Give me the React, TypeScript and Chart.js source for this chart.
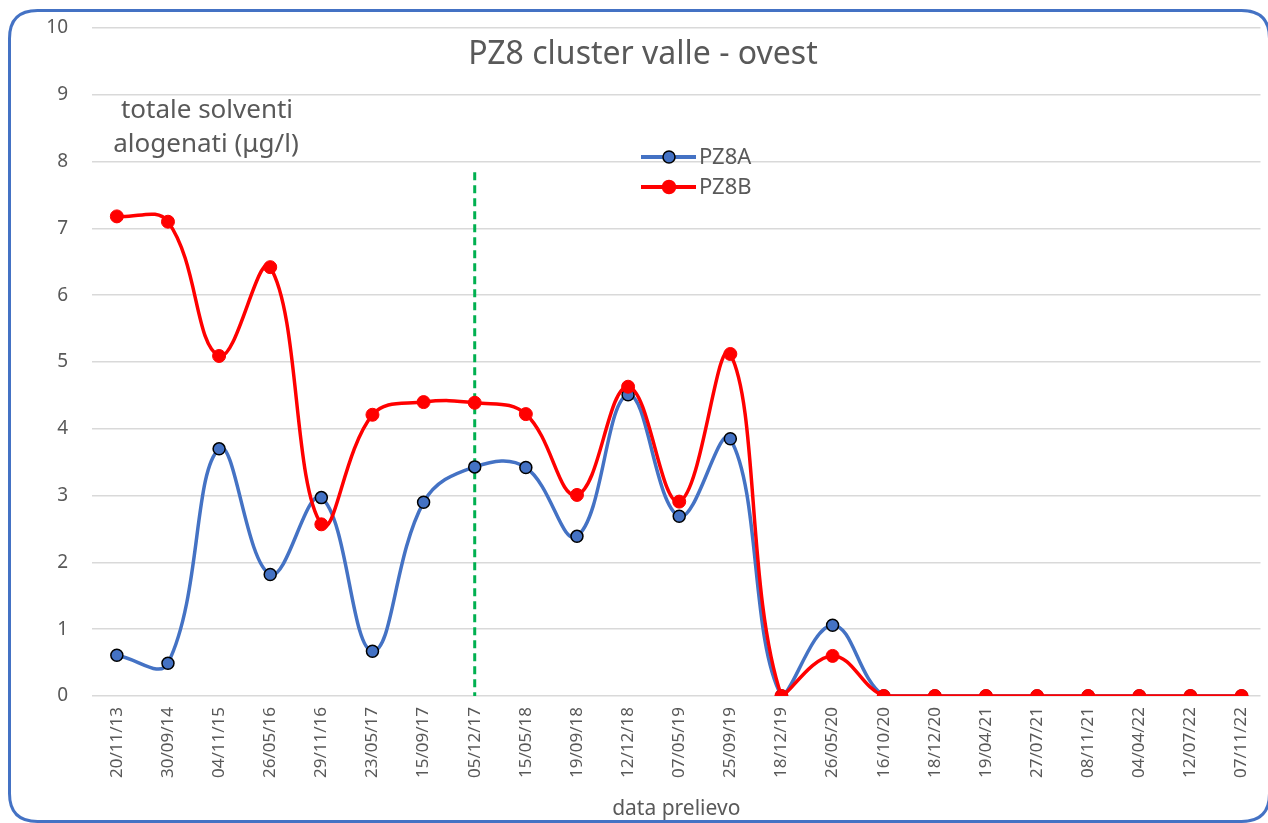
import React, { useEffect, useRef } from "react";
import { Chart, registerables } from "chart.js";
Chart.register(...registerables);

const categories = [
  "20/11/13", "30/09/14", "04/11/15", "26/05/16", "29/11/16", "23/05/17", "15/09/17",
  "05/12/17", "15/05/18", "19/09/18", "12/12/18", "07/05/19", "25/09/19", "18/12/19",
  "26/05/20", "16/10/20", "18/12/20", "19/04/21", "27/07/21", "08/11/21", "04/04/22",
  "12/07/22", "07/11/22",
];

const pz8a = [0.61, 0.49, 3.7, 1.82, 2.97, 0.67, 2.9, 3.43, 3.42, 2.39, 4.51, 2.69, 3.85, 0, 1.06, 0, 0, 0, 0, 0, 0, 0, 0];
const pz8b = [7.18, 7.1, 5.09, 6.42, 2.57, 4.21, 4.4, 4.39, 4.22, 3.01, 4.63, 2.91, 5.12, 0, 0.6, 0, 0, 0, 0, 0, 0, 0, 0];

const yTickValues = [0, 1, 2, 3, 4, 5, 6, 7, 8, 9, 10];
const seriesNames = ["PZ8A", "PZ8B"];
const titleText = "PZ8 cluster valle - ovest";
const yNoteLines = ["totale solventi", "alogenati (μg/l)"];
const xTitle = "data prelievo";
const markerIndex = 7;
const markerTop = 7.84;

const FONT = "'Noto Sans', sans-serif";
const TEXT = "#595959";
const BLUE = "#4472C4";
const RED = "#FF0000";

function roundRect(ctx: CanvasRenderingContext2D, x: number, y: number, w: number, h: number, r: number) {
  ctx.beginPath();
  ctx.moveTo(x + r, y);
  ctx.lineTo(x + w - r, y);
  ctx.quadraticCurveTo(x + w, y, x + w, y + r);
  ctx.lineTo(x + w, y + h - r);
  ctx.quadraticCurveTo(x + w, y + h, x + w - r, y + h);
  ctx.lineTo(x + r, y + h);
  ctx.quadraticCurveTo(x, y + h, x, y + h - r);
  ctx.lineTo(x, y + r);
  ctx.quadraticCurveTo(x, y, x + r, y);
  ctx.closePath();
}

const overlay = {
  id: "overlay",
  beforeDatasetsDraw(chart: any) {
    const { ctx, scales } = chart;
    const x = scales.x, y = scales.y;
    ctx.save();
    ctx.strokeStyle = "#00B050";
    ctx.lineWidth = 3;
    ctx.setLineDash([8, 5]);
    const px = x.getPixelForValue(markerIndex);
    ctx.beginPath();
    ctx.moveTo(px, y.getPixelForValue(markerTop));
    ctx.lineTo(px, y.getPixelForValue(0));
    ctx.stroke();
    ctx.restore();
  },
  afterDraw(chart: any) {
    const ctx: CanvasRenderingContext2D = chart.ctx;
    ctx.save();
    // frame
    ctx.strokeStyle = BLUE;
    ctx.lineWidth = 3;
    roundRect(ctx, 9.5, 10.5, 1260, 811, 28);
    ctx.stroke();

    // title
    ctx.fillStyle = TEXT;
    ctx.textAlign = "center";
    ctx.textBaseline = "middle";
    ctx.font = `32px ${FONT}`;
    ctx.fillText(titleText, 643, 55);

    // y note
    ctx.font = `26px ${FONT}`;
    ctx.fillText(yNoteLines[0], 207, 111);
    ctx.fillText(yNoteLines[1], 206, 145);

    // legend
    const items = [
      { name: seriesNames[0], color: BLUE, border: "#000000", y: 157, r: 6 },
      { name: seriesNames[1], color: RED, border: RED, y: 187, r: 6.5 },
    ];
    ctx.textAlign = "left";
    ctx.font = `22px ${FONT}`;
    for (const it of items) {
      ctx.strokeStyle = it.color;
      ctx.lineWidth = 4;
      ctx.beginPath();
      ctx.moveTo(641, it.y);
      ctx.lineTo(696, it.y);
      ctx.stroke();
      ctx.beginPath();
      ctx.arc(669, it.y, it.r, 0, Math.PI * 2);
      ctx.fillStyle = it.color;
      ctx.fill();
      ctx.lineWidth = 1.5;
      ctx.strokeStyle = it.border;
      ctx.stroke();
      ctx.fillStyle = TEXT;
      ctx.fillText(it.name, 699, it.y + 1);
    }
    ctx.restore();
  },
};

export default function App() {
  const ref = useRef<HTMLCanvasElement>(null);
  useEffect(() => {
    if (!ref.current) return;
    const chart = new Chart(ref.current, {
      type: "line",
      data: {
        datasets: [
          {
            label: seriesNames[0],
            data: pz8a.map((v, i) => ({ x: i, y: v })),
            borderColor: BLUE,
            backgroundColor: BLUE,
            borderWidth: 3.5,
            pointRadius: 6,
            pointBorderColor: "#000000",
            pointBorderWidth: 1.5,
            pointBackgroundColor: BLUE,
            tension: 0.4,
            order: 1,
          },
          {
            label: seriesNames[1],
            data: pz8b.map((v, i) => ({ x: i, y: v })),
            borderColor: RED,
            backgroundColor: RED,
            borderWidth: 3.5,
            pointRadius: 6.5,
            pointBorderColor: RED,
            pointBorderWidth: 1,
            pointBackgroundColor: RED,
            tension: 0.4,
            order: 0,
          },
        ],
      },
      options: {
        animation: false,
        responsive: false,
        layout: { padding: { top: 28, right: 0, left: 0, bottom: 0 } },
        plugins: { legend: { display: false }, tooltip: { enabled: false } },
        scales: {
          x: {
            type: "linear",
            min: -0.486,
            max: 22.37,
            grid: { display: false },
            border: { display: false },
            afterBuildTicks: (axis: any) => {
              axis.ticks = categories.map((_, i) => ({ value: i }));
            },
            afterFit: (s: any) => {
              s.height = 127;
              s.paddingTop = 0;
              s.paddingBottom = 0;
              s.paddingLeft = 0;
              s.paddingRight = 0;
            },
            ticks: {
              autoSkip: false,
              maxRotation: 90,
              minRotation: 90,
              padding: 3,
              color: TEXT,
              font: { family: FONT, size: 17 },
              callback: (v: any) => categories[v as number] ?? "",
            },
            title: {
              display: true,
              text: xTitle,
              color: TEXT,
              font: { family: FONT, size: 21 },
              padding: { top: 0, bottom: 1 },
            },
          },
          y: {
            min: 0,
            max: 10,
            grid: { color: "#D9D9D9", lineWidth: 1.5, drawTicks: false },
            border: { display: false },
            afterBuildTicks: (axis: any) => {
              axis.ticks = yTickValues.map((v) => ({ value: v }));
            },
            afterFit: (s: any) => {
              s.width = 92;
              s.paddingTop = 0;
              s.paddingBottom = 0;
              s.paddingLeft = 0;
              s.paddingRight = 0;
            },
            ticks: {
              padding: 24,
              color: TEXT,
              font: { family: FONT, size: 19 },
            },
          },
        },
      },
      plugins: [overlay],
    } as any);
    return () => chart.destroy();
  }, []);
  return (
    <canvas
      ref={ref}
      width={1268}
      height={823}
      style={{ position: "fixed", left: 0, top: 0, display: "block", background: "#ffffff" }}
    />
  );
}
